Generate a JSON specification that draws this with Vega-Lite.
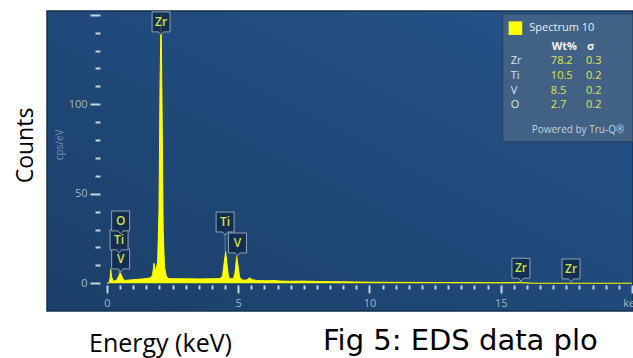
{
  "$schema": "https://vega.github.io/schema/vega-lite/v6.json",
  "width": 586,
  "height": 300,
  "autosize": {"type": "none"},
  "padding": {"left": 47, "top": 11, "right": 0, "bottom": 47},
  "background": "white",
  "config": {"view": {"stroke": null}, "font": "Open Sans"},
  "title": {
    "text": "Fig 5: EDS data plo",
    "orient": "bottom",
    "anchor": "start",
    "frame": "group",
    "font": "DejaVu Sans",
    "fontSize": 29,
    "fontWeight": "normal",
    "color": "#000000",
    "dx": 276,
    "dy": -29,
    "offset": 0
  },
  "datasets": {
    "spectrum": [
      {"e": 0.0, "c": 0}, {"e": 0.08, "c": 0.3}, {"e": 0.12, "c": 3}, {"e": 0.14, "c": 7.8},
      {"e": 0.17, "c": 4}, {"e": 0.22, "c": 1.5}, {"e": 0.3, "c": 1.2}, {"e": 0.38, "c": 2},
      {"e": 0.45, "c": 4}, {"e": 0.5, "c": 5.9}, {"e": 0.55, "c": 4.5}, {"e": 0.62, "c": 2},
      {"e": 0.7, "c": 1.6}, {"e": 0.85, "c": 1.8}, {"e": 1.0, "c": 2}, {"e": 1.2, "c": 2.2},
      {"e": 1.4, "c": 2.5}, {"e": 1.55, "c": 2.8}, {"e": 1.68, "c": 3.1}, {"e": 1.74, "c": 5},
      {"e": 1.79, "c": 11.2}, {"e": 1.83, "c": 7}, {"e": 1.88, "c": 8.5}, {"e": 1.93, "c": 12},
      {"e": 1.98, "c": 40}, {"e": 2.02, "c": 110}, {"e": 2.06, "c": 150}, {"e": 2.1, "c": 95},
      {"e": 2.14, "c": 30}, {"e": 2.19, "c": 9}, {"e": 2.26, "c": 4}, {"e": 2.35, "c": 2.6},
      {"e": 2.5, "c": 2.5}, {"e": 3.0, "c": 2.5}, {"e": 3.5, "c": 2.4}, {"e": 4.0, "c": 2.5},
      {"e": 4.3, "c": 2.6}, {"e": 4.4, "c": 4}, {"e": 4.47, "c": 12}, {"e": 4.52, "c": 17.7},
      {"e": 4.57, "c": 11}, {"e": 4.63, "c": 3.5}, {"e": 4.72, "c": 2.4}, {"e": 4.82, "c": 2.6},
      {"e": 4.88, "c": 6}, {"e": 4.94, "c": 14.9}, {"e": 4.99, "c": 10}, {"e": 5.05, "c": 3.5},
      {"e": 5.15, "c": 1.8}, {"e": 5.3, "c": 1.7}, {"e": 5.4, "c": 2.6}, {"e": 5.45, "c": 3.1},
      {"e": 5.52, "c": 2}, {"e": 5.7, "c": 1.6}, {"e": 6.0, "c": 1.4}, {"e": 6.4, "c": 1.5},
      {"e": 6.6, "c": 1.2}, {"e": 7.0, "c": 1.1}, {"e": 7.5, "c": 1.2}, {"e": 8.0, "c": 1.0},
      {"e": 8.5, "c": 0.9}, {"e": 9.0, "c": 0.8}, {"e": 10.0, "c": 0.6}, {"e": 11.0, "c": 0.5},
      {"e": 12.0, "c": 0.45}, {"e": 13.0, "c": 0.4}, {"e": 14.0, "c": 0.35}, {"e": 15.0, "c": 0.3},
      {"e": 15.6, "c": 0.4}, {"e": 15.75, "c": 0.6}, {"e": 15.9, "c": 0.3}, {"e": 16.3, "c": 0},
      {"e": 20.0, "c": 0}
    ],
    "peaks": [
      {"el": "Zr", "e": 2.06, "ly": 146, "py": 150},
      {"el": "V", "e": 0.52, "ly": 13.6, "py": 5.9},
      {"el": "Ti", "e": 0.46, "ly": 24.2, "py": 4},
      {"el": "O", "e": 0.52, "ly": 34.8, "py": 5.9},
      {"el": "Ti", "e": 4.5, "ly": 34.2, "py": 17.7},
      {"el": "V", "e": 4.97, "ly": 22.5, "py": 14.9},
      {"el": "Zr", "e": 15.77, "ly": 8.4, "py": 0.6},
      {"el": "Zr", "e": 17.68, "ly": 8.0, "py": 0}
    ],
    "quant": [
      {"el": "Zr", "wt": 78.2, "sd": 0.3, "rank": 1},
      {"el": "Ti", "wt": 10.5, "sd": 0.2, "rank": 2},
      {"el": "V", "wt": 8.5, "sd": 0.2, "rank": 3},
      {"el": "O", "wt": 2.7, "sd": 0.2, "rank": 4}
    ]
  },
  "layer": [
    {
      "resolve": {"axis": {"x": "independent", "y": "independent"}},
      "layer": [
        {
          "data": {"values": [{}]},
          "mark": {
            "type": "rect",
            "stroke": "#14304e",
            "strokeWidth": 1.5,
            "color": {
              "gradient": "linear", "x1": 0, "y1": 1, "x2": 1, "y2": 0,
              "stops": [{"offset": 0, "color": "#1b3f69"}, {"offset": 1, "color": "#25548a"}]
            }
          },
          "encoding": {
            "x": {"datum": -2.286, "type": "quantitative", "scale": {"domain": [-2.286, 20.04], "nice": false, "zero": false}, "axis": null},
            "x2": {"datum": 20.04},
            "y": {"datum": -15.5, "type": "quantitative", "scale": {"domain": [-15.5, 152.1], "nice": false, "zero": false}, "axis": null},
            "y2": {"datum": 152.1}
          }
        },
        {
          "data": {"name": "spectrum"},
          "mark": {"type": "area", "color": "#ffff00", "opacity": 1, "fillOpacity": 1, "clip": true, "line": {"color": "#ffff00", "strokeWidth": 1}},
          "encoding": {
            "x": {
              "field": "e", "type": "quantitative",
              "scale": {"domain": [-2.286, 20.04], "nice": false, "zero": false},
              "axis": {
                "orient": "bottom", "offset": -26, "domain": false, "grid": false, "zindex": 2,
                "values": [0, 5, 10, 15, 20],
                "tickSize": 8,
                "tickWidth": 2,
                "tickColor": "#c8d2de",
                "labelExpr": "datum.value === 20 ? 'keV' : datum.label",
                "labelColor": "#a3b5c8",
                "labelFont": "Open Sans",
                "labelFontSize": 11,
                "labelPadding": 4,
                "labelFlush": false,
                "labelOverlap": false,
                "title": "Energy (keV)",
                "titleFont": "Open Sans",
                "titleFontSize": 25,
                "titleFontWeight": "normal",
                "titleColor": "#000000",
                "titleX": 113,
                "titleY": 66,
                "titleAlign": "center",
                "titleBaseline": "alphabetic"
              }
            },
            "y": {
              "field": "c", "type": "quantitative",
              "scale": {"domain": [-15.5, 152.1], "nice": false, "zero": false},
              "axis": {
                "orient": "left", "offset": -53, "domain": false, "grid": false, "zindex": 2,
                "values": [0, 50, 100, 150],
                "tickSize": 10,
                "tickWidth": 2,
                "tickColor": "#c8d2de",
                "labelExpr": "datum.value < 150 ? datum.label : ''",
                "labelColor": "#a3b5c8",
                "labelFont": "Open Sans",
                "labelFontSize": 11,
                "labelPadding": 3,
                "labelOverlap": false,
                "title": "Counts",
                "titleFont": "Open Sans",
                "titleFontSize": 23,
                "titleFontWeight": "normal",
                "titleColor": "#000000",
                "titleAngle": 270,
                "titleX": -68,
                "titleY": 134,
                "titleAlign": "center",
                "titleBaseline": "alphabetic"
              }
            }
          }
        },
        {
          "data": {"name": "peaks"},
          "mark": {"type": "rule", "color": "#8ea3b8", "strokeWidth": 1, "opacity": 0.6},
          "encoding": {
            "x": {
              "field": "e", "type": "quantitative",
              "scale": {"domain": [-2.286, 20.04], "nice": false, "zero": false},
              "axis": {
                "orient": "bottom", "offset": -26, "domain": false, "grid": false, "zindex": 2,
                "values": [0.5, 1, 1.5, 2, 2.5, 3, 3.5, 4, 4.5, 5.5, 6, 6.5, 7, 7.5, 8, 8.5, 9, 9.5, 10.5, 11, 11.5, 12, 12.5, 13, 13.5, 14, 14.5, 15.5, 16, 16.5, 17, 17.5, 18, 18.5, 19, 19.5],
                "tickSize": 4,
                "tickWidth": 2,
                "tickColor": "#c8d2de",
                "labels": false,
                "title": null
              }
            },
            "y": {
              "field": "ly", "type": "quantitative",
              "scale": {"domain": [-15.5, 152.1], "nice": false, "zero": false},
              "axis": {
                "orient": "left", "offset": -53, "domain": false, "grid": false, "zindex": 2,
                "values": [10, 20, 30, 40, 60, 70, 80, 90, 110, 120, 130, 140],
                "tickSize": 5,
                "tickWidth": 2,
                "tickColor": "#c8d2de",
                "labels": false,
                "title": null
              }
            },
            "y2": {"field": "py"}
          }
        },
        {
          "data": {"name": "peaks"},
          "mark": {
            "type": "point",
            "shape": "M-0.75,-0.83L0.75,-0.83L0.75,0.83L0.2,0.83L0,1.08L-0.2,0.83L-0.75,0.83Z",
            "size": 576,
            "filled": true,
            "fill": "#10294a",
            "fillOpacity": 0.85,
            "stroke": "#8ea3b8",
            "strokeWidth": 1,
            "opacity": 1
          },
          "encoding": {
            "x": {"field": "e", "type": "quantitative", "axis": null},
            "y": {"field": "ly", "type": "quantitative", "axis": null}
          }
        },
        {
          "data": {"name": "peaks"},
          "mark": {"type": "text", "font": "Open Sans", "fontSize": 12, "fontWeight": 600, "color": "#d6e23e", "align": "center", "baseline": "middle"},
          "encoding": {
            "x": {"field": "e", "type": "quantitative", "axis": null},
            "y": {"field": "ly", "type": "quantitative", "axis": null},
            "text": {"field": "el"}
          }
        },
        {
          "data": {"values": [{}]},
          "mark": {"type": "text", "text": "cps/eV", "angle": 270, "font": "Open Sans", "fontSize": 10, "color": "#6f8fb2", "align": "center", "baseline": "middle"},
          "encoding": {
            "x": {"datum": -1.79, "type": "quantitative", "axis": null},
            "y": {"datum": 77.3, "type": "quantitative", "axis": null}
          }
        },
        {
          "data": {"values": [{}]},
          "mark": {"type": "rect", "fill": "#416285", "stroke": "#2a4567", "strokeWidth": 1.5},
          "encoding": {
            "x": {"datum": 15.07, "type": "quantitative", "axis": null},
            "x2": {"datum": 20.04},
            "y": {"datum": 150.4, "type": "quantitative", "axis": null},
            "y2": {"datum": 79.1}
          }
        },
        {
          "data": {"values": [{}]},
          "mark": {"type": "square", "size": 185, "color": "#ffff00", "opacity": 1},
          "encoding": {
            "x": {"datum": 15.56, "type": "quantitative", "axis": null},
            "y": {"datum": 142.5, "type": "quantitative", "axis": null}
          }
        },
        {
          "data": {"values": [{}]},
          "mark": {"type": "text", "text": "Spectrum 10", "font": "Open Sans", "fontSize": 11, "color": "#e8eef4", "align": "left", "baseline": "middle"},
          "encoding": {
            "x": {"datum": 16.09, "type": "quantitative", "axis": null},
            "y": {"datum": 142.6, "type": "quantitative", "axis": null}
          }
        },
        {
          "data": {"values": [{}]},
          "mark": {"type": "text", "text": "Powered by Tru-Q®", "font": "Open Sans", "fontSize": 10, "color": "#c6d2de", "align": "left", "baseline": "middle"},
          "encoding": {
            "x": {"datum": 16.18, "type": "quantitative", "axis": null},
            "y": {"datum": 85.6, "type": "quantitative", "axis": null}
          }
        }
      ]
    },
    {
      "layer": [
        {
          "data": {"values": [{}]},
          "mark": {"type": "text", "text": "Wt%", "font": "Open Sans", "fontSize": 11, "fontWeight": "bold", "color": "#f0f4f8", "align": "left", "baseline": "middle"},
          "encoding": {
            "x": {"datum": 16.94, "type": "quantitative", "axis": null},
            "y": {"datum": 0, "type": "quantitative", "scale": {"domain": [0, 4], "range": [35.7, 94.1]}, "axis": null}
          }
        },
        {
          "data": {"values": [{}]},
          "mark": {"type": "text", "text": "σ", "font": "Open Sans", "fontSize": 11, "fontWeight": "bold", "color": "#f0f4f8", "align": "left", "baseline": "middle"},
          "encoding": {
            "x": {"datum": 18.29, "type": "quantitative", "axis": null},
            "y": {"datum": 0, "type": "quantitative", "axis": null}
          }
        },
        {
          "data": {"name": "quant"},
          "mark": {"type": "text", "font": "Open Sans", "fontSize": 11, "color": "#dde5ee", "align": "left", "baseline": "middle"},
          "encoding": {
            "x": {"datum": 15.38, "type": "quantitative", "axis": null},
            "y": {"field": "rank", "type": "quantitative", "axis": null},
            "text": {"field": "el"}
          }
        },
        {
          "data": {"name": "quant"},
          "mark": {"type": "text", "font": "Open Sans", "fontSize": 11, "color": "#e2e64a", "align": "left", "baseline": "middle"},
          "encoding": {
            "x": {"datum": 16.91, "type": "quantitative", "axis": null},
            "y": {"field": "rank", "type": "quantitative", "axis": null},
            "text": {"field": "wt", "format": ".1f"}
          }
        },
        {
          "data": {"name": "quant"},
          "mark": {"type": "text", "font": "Open Sans", "fontSize": 11, "color": "#e2e64a", "align": "left", "baseline": "middle"},
          "encoding": {
            "x": {"datum": 18.25, "type": "quantitative", "axis": null},
            "y": {"field": "rank", "type": "quantitative", "axis": null},
            "text": {"field": "sd", "format": ".1f"}
          }
        }
      ]
    }
  ],
  "resolve": {"scale": {"y": "independent"}}
}
